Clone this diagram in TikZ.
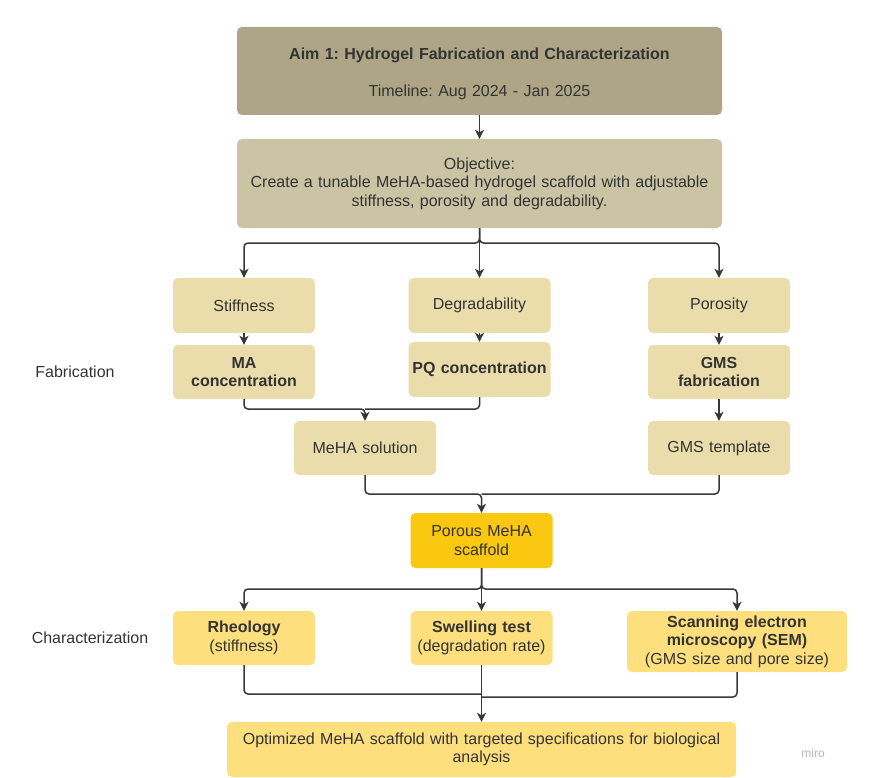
\documentclass[tikz,border=0pt]{standalone}
\usepackage{fontspec}
\setmainfont{Liberation Sans}
\usetikzlibrary{arrows.meta}
\definecolor{aimc}{RGB}{173,165,133}
\definecolor{objc}{RGB}{202,196,165}
\definecolor{tanc}{RGB}{235,221,171}
\definecolor{goldc}{RGB}{250,200,16}
\definecolor{lyc}{RGB}{253,223,125}
\definecolor{txt}{RGB}{51,51,51}
\definecolor{ln}{RGB}{55,55,55}
\begin{document}
\frenchspacing
\begin{tikzpicture}[x=1pt,y=-1pt,
  box/.style={rounded corners=5pt, draw=none, align=center, inner sep=2pt, text=txt, font=\fontsize{16}{18.5}\selectfont},
  wbox/.style={box, minimum width=142pt, minimum height=54pt, text width=136pt},
  arr/.style={draw=ln, line width=1.5pt, rounded corners=4pt, -{Stealth[length=9pt,width=9pt,inset=2.5pt]}},
  ln/.style={draw=ln, line width=1.5pt, rounded corners=4pt},
  lbl/.style={text=txt, font=\fontsize{16}{18}\selectfont}]
\useasboundingbox (0,0) rectangle (891,778);
\node[box, fill=aimc, minimum width=485pt, minimum height=88pt, text width=480pt] (aim) at (479.5,71)
  {\rule{0pt}{17pt}\textbf{Aim 1: Hydrogel Fabrication and Characterization}\\[18pt] Timeline: Aug 2024 - Jan 2025};
\node[box, fill=objc, minimum width=485pt, minimum height=89pt, text width=480pt] (obj) at (479.5,183.5)
  {Objective:\\ Create a tunable MeHA-based hydrogel scaffold with adjustable\\ stiffness, porosity and degradability.};
\node[wbox, fill=tanc, minimum height=55pt] (stiff) at (244,305.5) {Stiffness};
\node[wbox, fill=tanc] (ma) at (244,372) {\textbf{MA}\\ \textbf{concentration}};
\node[wbox, fill=tanc, minimum height=55pt] (degr) at (479.5,305.5) {Degradability};
\node[wbox, fill=tanc, minimum height=55pt] (pq) at (479.5,369.5) {\textbf{PQ concentration}};
\node[wbox, fill=tanc, minimum height=55pt] (poro) at (719,305.5) {Porosity};
\node[wbox, fill=tanc] (gmsf) at (719,372) {\textbf{GMS}\\ \textbf{fabrication}};
\node[wbox, fill=tanc] (meha) at (365,448) {MeHA solution};
\node[wbox, fill=tanc] (gmst) at (719,448) {GMS template};
\node[wbox, fill=goldc, minimum height=55pt] (porous) at (481.5,540.5) {Porous MeHA\\ scaffold};
\node[wbox, fill=lyc] (rheo) at (244,638) {\textbf{Rheology}\\ (stiffness)};
\node[wbox, fill=lyc] (swell) at (481.5,638) {\textbf{Swelling test}\\ (degradation rate)};
\node[box, fill=lyc, minimum width=220pt, minimum height=61pt, text width=214pt] (sem) at (737,641.5)
  {\textbf{Scanning electron}\\ \textbf{microscopy (SEM)}\\ (GMS size and pore size)};
\node[box, fill=lyc, minimum width=509pt, minimum height=55pt, text width=503pt] (opt) at (481.5,749.5)
  {Optimized MeHA scaffold with targeted specifications for biological\\ analysis};
\node[lbl] (fab) at (75,372) {Fabrication};
\node[lbl] (char) at (90,638) {Characterization};
\node[text=black!28, font=\fontsize{12}{14}\selectfont] (miro) at (813,753) {miro};
% connectors
\draw[arr] (aim.south) -- (obj.north);
\coordinate (j1) at (479.5,243);
\draw[arr] (obj.south) -- (j1) -| (stiff.north);
\draw[arr] (obj.south) -- (j1) -| (poro.north);
\draw[arr] (obj.south) -- (degr.north);
\draw[arr] (stiff.south) -- (ma.north);
\draw[arr] (degr.south) -- (pq.north);
\draw[arr] (poro.south) -- (gmsf.north);
\draw[arr] (gmsf.south) -- (gmst.north);
\coordinate (j2) at (365,409);
\draw[arr] (ma.south) |- (j2) -- (meha.north);
\draw[ln] (pq.south) |- (j2);
\coordinate (j3) at (481.5,494);
\draw[arr] (meha.south) |- (j3) -- (porous.north);
\draw[ln] (gmst.south) |- (j3);
\coordinate (j4) at (481.5,589);
\draw[arr] (porous.south) -- (j4) -| (rheo.north);
\draw[arr] (porous.south) -- (j4) -| (sem.north);
\draw[arr] (porous.south) -- (swell.north);
\coordinate (j5) at (481.5,694);
\coordinate (j6) at (481.5,697);
\draw[ln] (rheo.south) |- (j5);
\draw[ln] (sem.south) |- (j6);
\draw[arr] (swell.south) -- (opt.north);
\end{tikzpicture}
\end{document}
